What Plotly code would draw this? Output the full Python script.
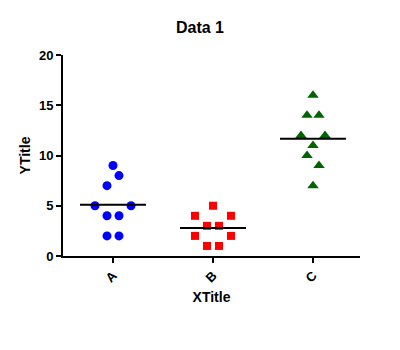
import numpy as np
import plotly.graph_objects as go

# Group labels and observed values
categories = ["A", "B", "C"]
values_a = [9, 8, 7, 5, 5, 4, 4, 2, 2]
values_b = [5, 4, 4, 3, 3, 2, 2, 1, 1]
values_c = [16, 14, 14, 12, 12, 11, 10, 9, 7]
y_ticks = [0, 5, 10, 15, 20]

# Horizontal swarm spread of each point, in pixels (100 px per category)
swarm_px = {
    "A": [0, 6, -6, -18, 18, -6, 6, -6, 6],
    "B": [0, -18, 18, -6, 6, -18, 18, -6, 6],
    "C": [0, -6, 6, -12, 12, 0, -6, 6, 0],
}

groups = [
    ("A", values_a, "#0000FF", "circle", 9),
    ("B", values_b, "#FF0000", "square", 8),
    ("C", values_c, "#006400", "triangle-up", 10),
]

FONT = "Arial, Liberation Sans, sans-serif"
fig = go.Figure()

for i, (name, vals, color, symbol, size) in enumerate(groups):
    xs = [i + dx / 100.0 for dx in swarm_px[name]]
    fig.add_trace(go.Scatter(
        x=xs, y=vals, mode="markers", name=name,
        marker=dict(color=color, symbol=symbol, size=size, line=dict(width=0)),
        showlegend=False, cliponaxis=False,
    ))
    m = float(np.mean(vals))
    fig.add_trace(go.Scatter(
        x=[i - 0.33, i + 0.33], y=[m, m], mode="lines",
        line=dict(color="black", width=2), showlegend=False, hoverinfo="skip",
    ))

fig.update_layout(
    width=400, height=350,
    margin=dict(l=63, r=40, t=55, b=94),
    paper_bgcolor="white", plot_bgcolor="white",
    font=dict(family=FONT, color="black"),
    title=dict(text="<b>Data 1</b>", x=0.5, xanchor="center", y=0.922, yanchor="middle",
               font=dict(size=16, family=FONT, color="black")),
)

fig.update_xaxes(
    range=[-0.5, 2.47], tickmode="array", tickvals=[0, 1, 2],
    ticktext=[f"<b>{c}</b>" for c in categories], tickangle=-45,
    showline=True, linecolor="black", linewidth=2,
    ticks="outside", ticklen=5, tickwidth=2, tickcolor="black",
    showgrid=False, zeroline=False,
    tickfont=dict(size=13, family=FONT, color="black"),
    title=dict(text="<b>XTitle</b>", font=dict(size=14, family=FONT, color="black"), standoff=8),
)
fig.update_yaxes(
    range=[0, 20], tickmode="array", tickvals=y_ticks,
    ticktext=[f"<b>{t}</b>" for t in y_ticks],
    showline=True, linecolor="black", linewidth=2,
    ticks="outside", ticklen=5, tickwidth=2, tickcolor="black",
    showgrid=False, zeroline=False,
    tickfont=dict(size=13, family=FONT, color="black"),
    title=dict(text="<b>YTitle</b>", font=dict(size=14, family=FONT, color="black"), standoff=5),
)

fig.write_html("out.html")
